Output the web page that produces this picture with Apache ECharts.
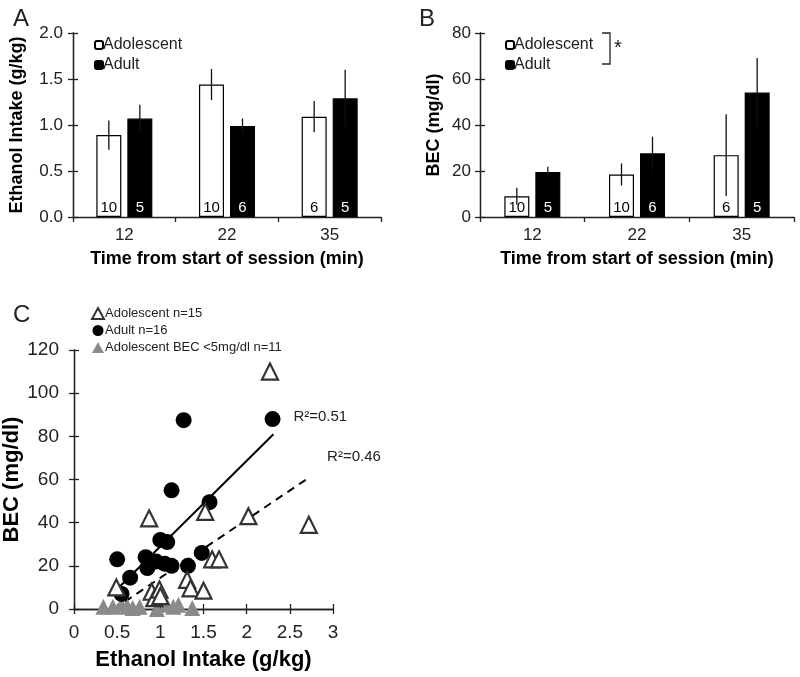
<!DOCTYPE html>
<html><head><meta charset="utf-8">
<script src="https://cdn.jsdelivr.net/npm/echarts@6/dist/echarts.min.js"></script>
<style>html,body{margin:0;padding:0;background:#fff}#c{width:800px;height:677px}</style>
</head><body><div id="c"></div>
<script>
// ---- Panel A / B data ----
var categories = ['12', '22', '35'];
var intakeAdolescent = [0.89, 1.44, 1.09];
var intakeAdolescentSem = [0.16, 0.17, 0.17];
var intakeAdult = [1.07, 0.99, 1.29];
var intakeAdultSem = [0.15, 0.08, 0.31];
var becAdolescent = [9.0, 18.5, 26.9];
var becAdolescentSem = [3.7, 4.8, 17.8];
var becAdult = [19.6, 27.7, 54.1];
var becAdultSem = [2.2, 7.2, 15.0];
var nAdolescent = [10, 10, 6];
var nAdult = [5, 6, 5];
// ---- Panel C data ----
var scatterAdolescent = [[0.49,10],[0.87,42],[0.90,8],[0.93,5],[0.99,9],[1.31,13.5],[1.35,9.6],[1.50,8.5],[1.52,45],[1.60,23],[1.68,23],[2.02,43],[2.27,110],[2.72,39],[1.0,6]];
var scatterAdult = [[0.50,23],[0.55,7],[0.65,14.5],[0.83,24],[0.85,19],[0.95,22],[1.0,32],[1.08,31],[1.05,21],[1.13,20],[1.13,55],[1.27,87.5],[1.32,20],[1.48,26],[1.57,49.5],[2.30,88]];
var scatterLowBec = [[0.34,1],[0.45,1],[0.55,2],[0.62,1],[0.68,0.5],[0.76,1],[0.96,0],[1.07,2],[1.15,1],[1.21,2],[1.37,0.5]];
var fitAdult = [[0.49,8.8],[2.31,81]];
var fitAdolescent = [[0.59,3.4],[2.70,60.3]];
var r2Adult = 'R\u00b2=0.51';
var r2Adolescent = 'R\u00b2=0.46';
var yTicksA = {min:0, max:2, interval:0.5};
var yTicksB = {min:0, max:80, interval:20};
var yTicksC = {min:0, max:120, interval:20};
var xTicksC = {min:0, max:3, interval:0.5};

var FONT = '"Liberation Sans", Arial, sans-serif';
var BW = 25, HALF = 15.5;

function errRender(offset){
  return function(params, api){
    var c = api.value(0), v = api.value(1), e = api.value(2);
    var t = api.coord([c, v + e]);
    var b = api.coord([c, v - e]);
    return {type:'line', shape:{x1:t[0]+offset, y1:t[1], x2:b[0]+offset, y2:b[1]},
      style:{stroke:'#111', lineWidth:1.3}};
  };
}
function errData(vals, sems){ return vals.map(function(v,i){ return [i, v, sems[i]]; }); }

var lineSt = {color:'#222', width:1.3};
var axisLine = {lineStyle:lineSt};
var axisTick = {show:true, length:5, lineStyle:lineSt};
var axisLabel = {color:'#222', fontSize:17, fontFamily:FONT, margin:10};
var nameStyle = {color:'#000', fontSize:18, fontWeight:'bold', fontFamily:FONT};

function barSeries(name, data, idx, fill, labColor, counts){
  return {type:'bar', name:name, xAxisIndex:idx, yAxisIndex:idx, data:data, barWidth:BW, barGap:'24%',
    itemStyle:{color:fill, borderColor:'#000', borderWidth:1.2},
    label:{show:true, position:'insideBottom', distance:2, color:labColor, fontSize:15, fontFamily:FONT,
      formatter:function(p){ return String(counts[p.dataIndex]); }},
    z:2};
}
function errSeries(vals, sems, idx, off){
  return {type:'custom', name:'err', xAxisIndex:idx, yAxisIndex:idx, renderItem:errRender(off),
    data:errData(vals, sems), encode:{x:0, y:1}, z:5, silent:true};
}
function innerTickAxis(grid, t, pos){
  return {type:'value', gridIndex:grid, position:pos, offset:0, min:t.min, max:t.max, interval:t.interval, splitLine:{show:false},
    axisLine:{show:true, onZero:false, lineStyle:lineSt}, axisTick:{show:true, inside:true, length:5, lineStyle:lineSt}, axisLabel:{show:false}};
}

var chart = echarts.init(document.getElementById('c'), null, {renderer:'canvas'});
var option = {
  backgroundColor:'#fff',
  animation:false,
  textStyle:{fontFamily:FONT},
  title:[
    {text:'A', left:8, top:2, textStyle:{fontSize:24, fontWeight:'normal', color:'#222', fontFamily:FONT}},
    {text:'B', left:414, top:2, textStyle:{fontSize:24, fontWeight:'normal', color:'#222', fontFamily:FONT}},
    {text:'C', left:8, top:298, textStyle:{fontSize:24, fontWeight:'normal', color:'#222', fontFamily:FONT}}
  ],
  legend:[
    {left:89, top:32, orient:'vertical', itemWidth:8, itemHeight:8, itemGap:4, data:['Adolescent','Adult'],
      textStyle:{fontSize:16, color:'#222', fontFamily:FONT, padding:[0,0,0,-5]}},
    {left:500, top:32, orient:'vertical', itemWidth:8, itemHeight:8, itemGap:4, data:['Adolescent','Adult'],
      textStyle:{fontSize:16, color:'#222', fontFamily:FONT, padding:[0,0,0,-5]}},
    {left:86, top:302, orient:'vertical', itemWidth:12, itemHeight:11, itemGap:4,
      data:['Adolescent n=15','Adult n=16','Adolescent BEC <5mg/dl n=11'],
      textStyle:{fontSize:13, color:'#222', fontFamily:FONT, padding:[0,0,0,-4]}}
  ],
  grid:[
    {left:73, top:33, width:308, height:184},
    {left:480, top:33, width:314, height:184},
    {left:74, top:350, width:259, height:259}
  ],
  xAxis:[
    {type:'category', gridIndex:0, position:'bottom', data:categories, axisLine:axisLine, axisTick:axisTick, axisLabel:axisLabel,
      name:'Time from start of session (min)', nameLocation:'middle', nameGap:33, nameTextStyle:nameStyle},
    {type:'category', gridIndex:1, position:'bottom', data:categories, axisLine:axisLine, axisTick:axisTick, axisLabel:axisLabel,
      name:'Time from start of session (min)', nameLocation:'middle', nameGap:33, nameTextStyle:nameStyle},
    {type:'value', gridIndex:2, position:'bottom', min:xTicksC.min, max:xTicksC.max, interval:xTicksC.interval, splitLine:{show:false},
      axisLine:axisLine, axisTick:axisTick, axisLabel:{color:'#222', fontSize:19, fontFamily:FONT, margin:14},
      name:'Ethanol Intake (g/kg)', nameLocation:'middle', nameGap:40,
      nameTextStyle:{color:'#000', fontSize:22, fontWeight:'bold', fontFamily:FONT}},
    innerTickAxis(2, xTicksC, 'bottom')
  ],
  yAxis:[
    {type:'value', gridIndex:0, position:'left', min:yTicksA.min, max:yTicksA.max, interval:yTicksA.interval, splitLine:{show:false},
      axisLine:{show:true, lineStyle:lineSt}, axisTick:axisTick,
      axisLabel:{color:'#222', fontSize:17, fontFamily:FONT, margin:10, formatter:function(v){return v.toFixed(1);}},
      name:'Ethanol Intake (g/kg)', nameLocation:'middle', nameGap:47, nameTextStyle:nameStyle},
    {type:'value', gridIndex:1, position:'left', min:yTicksB.min, max:yTicksB.max, interval:yTicksB.interval, splitLine:{show:false},
      axisLine:{show:true, lineStyle:lineSt}, axisTick:axisTick, axisLabel:{color:'#222', fontSize:17, fontFamily:FONT, margin:9},
      name:'BEC (mg/dl)', nameLocation:'middle', nameGap:37, nameTextStyle:nameStyle},
    {type:'value', gridIndex:2, position:'left', min:yTicksC.min, max:yTicksC.max, interval:yTicksC.interval, splitLine:{show:false},
      axisLine:{show:true, lineStyle:lineSt}, axisTick:axisTick,
      axisLabel:{color:'#222', fontSize:19, fontFamily:FONT, margin:15},
      name:'BEC (mg/dl)', nameLocation:'middle', nameGap:43,
      nameTextStyle:{color:'#000', fontSize:22, fontWeight:'bold', fontFamily:FONT}},
    innerTickAxis(2, yTicksC, 'left'),
    innerTickAxis(0, yTicksA, 'left'),
    innerTickAxis(1, yTicksB, 'left')
  ],
  series:[
    barSeries('Adolescent', intakeAdolescent, 0, '#fff', '#000', nAdolescent),
    barSeries('Adult', intakeAdult, 0, '#000', '#fff', nAdult),
    errSeries(intakeAdolescent, intakeAdolescentSem, 0, -HALF),
    errSeries(intakeAdult, intakeAdultSem, 0, HALF),
    barSeries('Adolescent', becAdolescent, 1, '#fff', '#000', nAdolescent),
    barSeries('Adult', becAdult, 1, '#000', '#fff', nAdult),
    errSeries(becAdolescent, becAdolescentSem, 1, -HALF),
    errSeries(becAdult, becAdultSem, 1, HALF),
    {type:'line', name:'fitAdult', xAxisIndex:2, yAxisIndex:2, data:fitAdult, symbol:'none', z:3,
      lineStyle:{color:'#000', width:2},
      endLabel:{show:true, formatter:r2Adult, offset:[12,-17], color:'#222', fontSize:15, fontFamily:FONT}},
    {type:'line', name:'fitAdolescent', xAxisIndex:2, yAxisIndex:2, data:fitAdolescent, symbol:'none', z:3,
      lineStyle:{color:'#000', width:2, type:[8,6]},
      endLabel:{show:true, formatter:r2Adolescent, offset:[12,-22], color:'#222', fontSize:15, fontFamily:FONT}},
    {type:'scatter', name:'Adolescent BEC <5mg/dl n=11', xAxisIndex:2, yAxisIndex:2, data:scatterLowBec,
      symbol:'triangle', symbolSize:16, itemStyle:{color:'#8a8a8a', opacity:1}, z:4},
    {type:'scatter', name:'Adult n=16', xAxisIndex:2, yAxisIndex:2, data:scatterAdult,
      symbol:'circle', symbolSize:16, itemStyle:{color:'#000', opacity:1}, z:5},
    {type:'scatter', name:'Adolescent n=15', xAxisIndex:2, yAxisIndex:2, data:scatterAdolescent,
      symbol:'triangle', symbolSize:16, itemStyle:{color:'#fff', borderColor:'#333', borderWidth:2.2, opacity:1}, z:6}
  ],
  graphic:[
    {type:'polyline', shape:{points:[[602,33],[610,33],[610,64],[602,64]]}, style:{stroke:'#222', lineWidth:1.3, fill:null}},
    {type:'text', left:614, top:38, style:{text:'*', fontSize:20, fill:'#222', font:'20px "Liberation Sans", Arial'}}
  ]
};
chart.setOption(option);
</script>
</body></html>
